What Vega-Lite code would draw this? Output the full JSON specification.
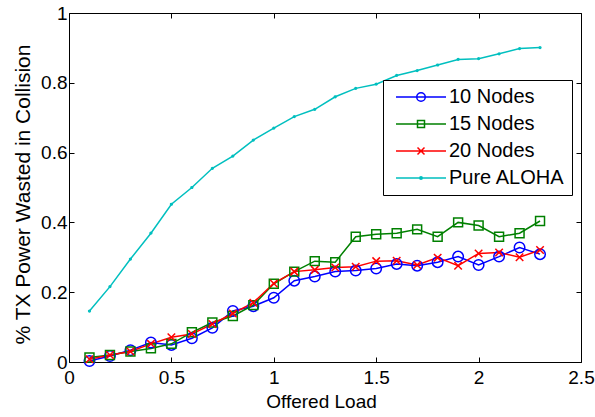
{
  "$schema": "https://vega.github.io/schema/vega-lite/v6.json",
  "width": 512,
  "height": 349,
  "autosize": "none",
  "padding": {"left": 69, "top": 13, "right": 14, "bottom": 55},
  "background": "white",
  "config": {
    "font": "Liberation Sans",
    "view": {"stroke": "black", "strokeWidth": 1},
    "axis": {
      "domain": false,
      "grid": false,
      "tickColor": "black",
      "tickSize": -5,
      "tickWidth": 1,
      "labelFlush": false,
      "labelColor": "black",
      "labelFont": "Liberation Sans",
      "labelFontSize": 19,
      "titleFont": "Liberation Sans",
      "titleFontSize": 19,
      "titleFontWeight": "normal",
      "titleColor": "black"
    }
  },
  "data": {
    "values": [
      {"load": 0.1, "series": "10 Nodes", "value": 0.003},
      {"load": 0.2, "series": "10 Nodes", "value": 0.017},
      {"load": 0.3, "series": "10 Nodes", "value": 0.034},
      {"load": 0.4, "series": "10 Nodes", "value": 0.056},
      {"load": 0.5, "series": "10 Nodes", "value": 0.049},
      {"load": 0.6, "series": "10 Nodes", "value": 0.068},
      {"load": 0.7, "series": "10 Nodes", "value": 0.098},
      {"load": 0.8, "series": "10 Nodes", "value": 0.146},
      {"load": 0.9, "series": "10 Nodes", "value": 0.160},
      {"load": 1.0, "series": "10 Nodes", "value": 0.184},
      {"load": 1.1, "series": "10 Nodes", "value": 0.233},
      {"load": 1.2, "series": "10 Nodes", "value": 0.245},
      {"load": 1.3, "series": "10 Nodes", "value": 0.259},
      {"load": 1.4, "series": "10 Nodes", "value": 0.262},
      {"load": 1.5, "series": "10 Nodes", "value": 0.268},
      {"load": 1.6, "series": "10 Nodes", "value": 0.281},
      {"load": 1.7, "series": "10 Nodes", "value": 0.276},
      {"load": 1.8, "series": "10 Nodes", "value": 0.286},
      {"load": 1.9, "series": "10 Nodes", "value": 0.302},
      {"load": 2.0, "series": "10 Nodes", "value": 0.278},
      {"load": 2.1, "series": "10 Nodes", "value": 0.302},
      {"load": 2.2, "series": "10 Nodes", "value": 0.328},
      {"load": 2.3, "series": "10 Nodes", "value": 0.309},
      {"load": 0.1, "series": "15 Nodes", "value": 0.013},
      {"load": 0.2, "series": "15 Nodes", "value": 0.020},
      {"load": 0.3, "series": "15 Nodes", "value": 0.030},
      {"load": 0.4, "series": "15 Nodes", "value": 0.039},
      {"load": 0.5, "series": "15 Nodes", "value": 0.052},
      {"load": 0.6, "series": "15 Nodes", "value": 0.085},
      {"load": 0.7, "series": "15 Nodes", "value": 0.113},
      {"load": 0.8, "series": "15 Nodes", "value": 0.132},
      {"load": 0.9, "series": "15 Nodes", "value": 0.163},
      {"load": 1.0, "series": "15 Nodes", "value": 0.224},
      {"load": 1.1, "series": "15 Nodes", "value": 0.259},
      {"load": 1.2, "series": "15 Nodes", "value": 0.289},
      {"load": 1.3, "series": "15 Nodes", "value": 0.286},
      {"load": 1.4, "series": "15 Nodes", "value": 0.359},
      {"load": 1.5, "series": "15 Nodes", "value": 0.366},
      {"load": 1.6, "series": "15 Nodes", "value": 0.369},
      {"load": 1.7, "series": "15 Nodes", "value": 0.380},
      {"load": 1.8, "series": "15 Nodes", "value": 0.359},
      {"load": 1.9, "series": "15 Nodes", "value": 0.400},
      {"load": 2.0, "series": "15 Nodes", "value": 0.391},
      {"load": 2.1, "series": "15 Nodes", "value": 0.359},
      {"load": 2.2, "series": "15 Nodes", "value": 0.369},
      {"load": 2.3, "series": "15 Nodes", "value": 0.404},
      {"load": 0.1, "series": "20 Nodes", "value": 0.008},
      {"load": 0.2, "series": "20 Nodes", "value": 0.020},
      {"load": 0.3, "series": "20 Nodes", "value": 0.030},
      {"load": 0.4, "series": "20 Nodes", "value": 0.052},
      {"load": 0.5, "series": "20 Nodes", "value": 0.071},
      {"load": 0.6, "series": "20 Nodes", "value": 0.080},
      {"load": 0.7, "series": "20 Nodes", "value": 0.109},
      {"load": 0.8, "series": "20 Nodes", "value": 0.139},
      {"load": 0.9, "series": "20 Nodes", "value": 0.170},
      {"load": 1.0, "series": "20 Nodes", "value": 0.225},
      {"load": 1.1, "series": "20 Nodes", "value": 0.259},
      {"load": 1.2, "series": "20 Nodes", "value": 0.264},
      {"load": 1.3, "series": "20 Nodes", "value": 0.271},
      {"load": 1.4, "series": "20 Nodes", "value": 0.273},
      {"load": 1.5, "series": "20 Nodes", "value": 0.289},
      {"load": 1.6, "series": "20 Nodes", "value": 0.290},
      {"load": 1.7, "series": "20 Nodes", "value": 0.278},
      {"load": 1.8, "series": "20 Nodes", "value": 0.299},
      {"load": 1.9, "series": "20 Nodes", "value": 0.276},
      {"load": 2.0, "series": "20 Nodes", "value": 0.311},
      {"load": 2.1, "series": "20 Nodes", "value": 0.314},
      {"load": 2.2, "series": "20 Nodes", "value": 0.300},
      {"load": 2.3, "series": "20 Nodes", "value": 0.321},
      {"load": 0.1, "series": "Pure ALOHA", "value": 0.146},
      {"load": 0.2, "series": "Pure ALOHA", "value": 0.216},
      {"load": 0.3, "series": "Pure ALOHA", "value": 0.295},
      {"load": 0.4, "series": "Pure ALOHA", "value": 0.369},
      {"load": 0.5, "series": "Pure ALOHA", "value": 0.452},
      {"load": 0.6, "series": "Pure ALOHA", "value": 0.500},
      {"load": 0.7, "series": "Pure ALOHA", "value": 0.555},
      {"load": 0.8, "series": "Pure ALOHA", "value": 0.590},
      {"load": 0.9, "series": "Pure ALOHA", "value": 0.636},
      {"load": 1.0, "series": "Pure ALOHA", "value": 0.670},
      {"load": 1.1, "series": "Pure ALOHA", "value": 0.703},
      {"load": 1.2, "series": "Pure ALOHA", "value": 0.724},
      {"load": 1.3, "series": "Pure ALOHA", "value": 0.760},
      {"load": 1.4, "series": "Pure ALOHA", "value": 0.784},
      {"load": 1.5, "series": "Pure ALOHA", "value": 0.796},
      {"load": 1.6, "series": "Pure ALOHA", "value": 0.821},
      {"load": 1.7, "series": "Pure ALOHA", "value": 0.835},
      {"load": 1.8, "series": "Pure ALOHA", "value": 0.851},
      {"load": 1.9, "series": "Pure ALOHA", "value": 0.867},
      {"load": 2.0, "series": "Pure ALOHA", "value": 0.869},
      {"load": 2.1, "series": "Pure ALOHA", "value": 0.883},
      {"load": 2.2, "series": "Pure ALOHA", "value": 0.898},
      {"load": 2.3, "series": "Pure ALOHA", "value": 0.901}
    ]
  },
  "resolve": {"axis": {"x": "independent", "y": "independent"}},
  "layer": [
    {
      "mark": {"type": "line", "strokeWidth": 1.5},
      "encoding": {
        "x": {
          "field": "load", "type": "quantitative",
          "scale": {"domain": [0, 2.5], "nice": false},
          "axis": {"orient": "bottom", "values": [0, 0.5, 1, 1.5, 2, 2.5], "format": "~g", "labelPadding": 11, "title": "Offered Load", "titlePadding": 5, "titleX": 252}
        },
        "y": {
          "field": "value", "type": "quantitative",
          "scale": {"domain": [0, 1], "nice": false},
          "axis": {"orient": "left", "values": [0, 0.2, 0.4, 0.6, 0.8, 1], "format": "~g", "labelPadding": 7, "title": "% TX Power Wasted in Collision", "titleFontSize": 21, "titlePadding": 7, "titleY": 181}
        },
        "stroke": {
          "field": "series", "type": "nominal",
          "scale": {"domain": ["10 Nodes", "15 Nodes", "20 Nodes", "Pure ALOHA"], "range": ["#0000FF", "#008000", "#FF0000", "#00BFBF"]},
          "legend": {
            "title": null,
            "orient": "none",
            "legendX": 314,
            "legendY": 67,
            "strokeColor": "black",
            "fillColor": "white",
            "padding": 7,
            "rowPadding": 7,
            "labelOffset": 39,
            "labelFontSize": 20,
            "labelFont": "Liberation Sans",
            "labelColor": "black",
            "symbolSize": 100,
            "symbolStrokeWidth": 1.5,
            "encode": {
              "symbols": {
                "update": {
                  "shape": {"signal": "datum.value === '10 Nodes' ? 'M-0.8,0H9.2M5.05,0A0.85,0.85 0 1,1 3.35,0A0.85,0.85 0 1,1 5.05,0' : datum.value === '15 Nodes' ? 'M-0.8,0H9.2M3.5,-0.7H4.9V0.7H3.5Z' : datum.value === '20 Nodes' ? 'M-0.8,0H9.2M3.5,-0.7L4.9,0.7M3.5,0.7L4.9,-0.7' : 'M-0.8,0H9.2M4.45,0A0.25,0.25 0 1,1 3.95,0A0.25,0.25 0 1,1 4.45,0'"},
                  "fill": {"value": "transparent"},
                  "strokeWidth": {"value": 1.5}
                }
              }
            }
          }
        }
      }
    },
    {
      "transform": [{"filter": "datum.series === '10 Nodes'"}],
      "mark": {"type": "point", "shape": "circle", "size": 110, "filled": false, "strokeWidth": 1.5, "opacity": 1, "color": "#0000FF"},
      "encoding": {
        "x": {
          "field": "load", "type": "quantitative",
          "scale": {"domain": [0, 2.5], "nice": false},
          "axis": {"orient": "top", "values": [0, 0.5, 1, 1.5, 2, 2.5], "labels": false, "title": null}
        },
        "y": {
          "field": "value", "type": "quantitative",
          "scale": {"domain": [0, 1], "nice": false},
          "axis": {"orient": "right", "values": [0, 0.2, 0.4, 0.6, 0.8, 1], "labels": false, "title": null}
        }
      }
    },
    {
      "transform": [{"filter": "datum.series === '15 Nodes'"}],
      "mark": {"type": "point", "shape": "square", "size": 80, "filled": false, "strokeWidth": 1.5, "opacity": 1, "color": "#008000"},
      "encoding": {
        "x": {"field": "load", "type": "quantitative", "axis": null},
        "y": {"field": "value", "type": "quantitative", "axis": null}
      }
    },
    {
      "transform": [{"filter": "datum.series === '20 Nodes'"}],
      "mark": {"type": "point", "shape": "M-1,-1L1,1M-1,1L1,-1", "size": 56, "filled": false, "strokeWidth": 1.5, "opacity": 1, "color": "#FF0000"},
      "encoding": {
        "x": {"field": "load", "type": "quantitative", "axis": null},
        "y": {"field": "value", "type": "quantitative", "axis": null}
      }
    },
    {
      "transform": [{"filter": "datum.series === 'Pure ALOHA'"}],
      "mark": {"type": "point", "shape": "circle", "size": 3, "filled": false, "strokeWidth": 1.5, "opacity": 1, "color": "#00BFBF"},
      "encoding": {
        "x": {"field": "load", "type": "quantitative", "axis": null},
        "y": {"field": "value", "type": "quantitative", "axis": null}
      }
    }
  ]
}
